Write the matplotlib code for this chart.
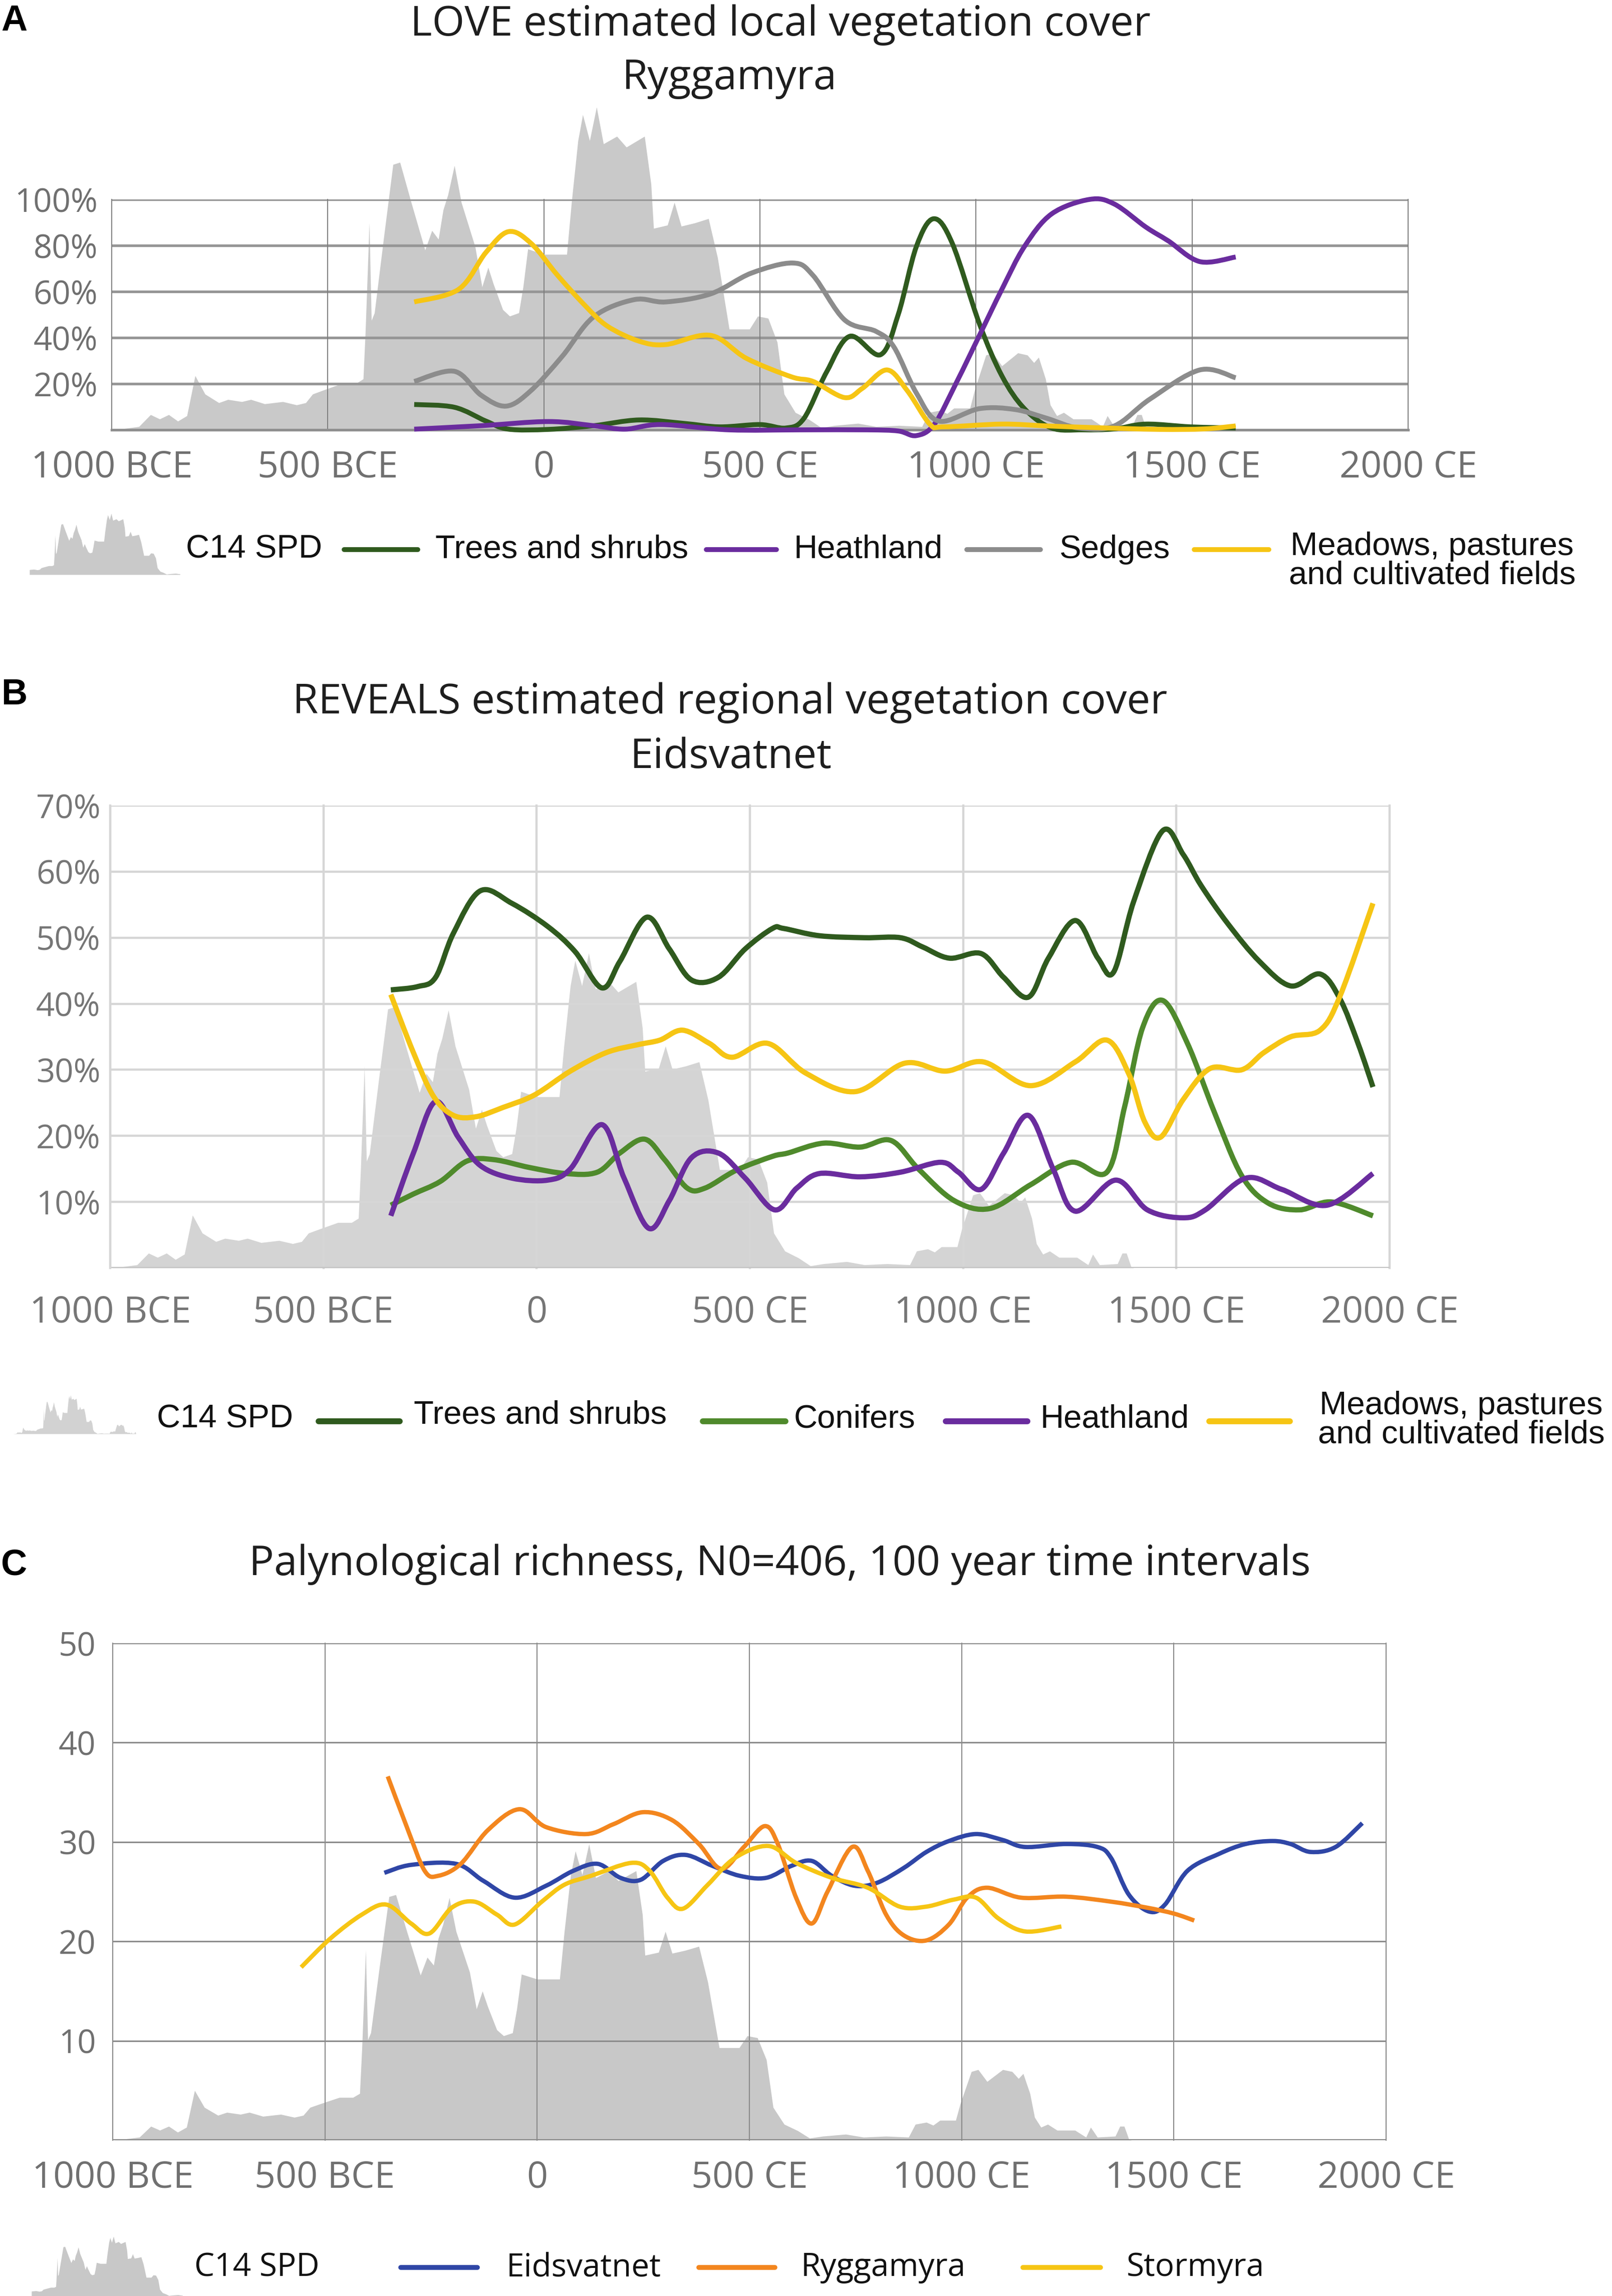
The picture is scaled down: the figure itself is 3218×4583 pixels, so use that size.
import numpy as np
import matplotlib
matplotlib.use('Agg')
import matplotlib.pyplot as plt
from matplotlib.lines import Line2D
from matplotlib.path import Path
from matplotlib.patches import PathPatch

# ---- C14 summed probability distribution (shared, relative units as in panel C) ----
spd_year = [-1000, -974, -937, -910, -889, -868, -847, -826, -807, -784, -752, -731, -699, -678, -646,
            -604, -572, -551, -535, -508, -466, -434, -418, -413, -404, -399, -392, -371, -349, -333,
            -307, -275, -259, -244, -233, -222, -207, -191, -159, -143, -129, -117, -95, -79, -58,
            -48, -37, 0, 53, 64, 79, 90, 106, 122, 138, 169, 191, 233, 248, 254,
            286, 302, 318, 349, 381, 402, 429, 476, 495, 519, 540, 556, 582, 614, 642,
            673, 727, 769, 822, 875, 891, 917, 933, 949, 986, 997, 1023, 1039, 1060, 1097,
            1119, 1134, 1145, 1161, 1172, 1187, 1203, 1225, 1267, 1293, 1304, 1320, 1362, 1373, 1383,
            1394, 1400]
spd_val = [0, 0.1, 0.3, 1.4, 1.0, 1.4, 0.8, 1.3, 5.0, 3.3, 2.5, 2.8, 2.6, 2.8, 2.4,
           2.6, 2.3, 2.5, 3.3, 3.7, 4.3, 4.3, 4.7, 9.1, 19.1, 10.1, 10.8, 17.6, 24.5, 24.7,
           21.0, 16.6, 18.4, 17.6, 20.3, 21.7, 24.4, 21.0, 16.9, 13.2, 15.0, 13.5, 11.1, 10.5, 10.8,
           13.2, 16.7, 16.2, 16.2, 21.0, 26.7, 29.1, 26.7, 29.8, 26.4, 27.1, 26.1, 27.1, 22.7, 18.6,
           18.9, 21.0, 18.8, 19.1, 19.5, 15.9, 9.3, 9.3, 10.5, 10.3, 8.1, 3.3, 1.6, 0.95, 0.2,
           0.4, 0.6, 0.3, 0.4, 0.3, 1.6, 1.8, 1.5, 2.0, 2.0, 3.7, 6.9, 7.1, 5.9, 7.1,
           6.9, 6.2, 6.7, 4.7, 2.3, 1.3, 1.6, 1.0, 1.0, 0.3, 1.3, 0.3, 0.4, 1.4, 1.4,
           0.1, 0]

# ---- Panel A: LOVE, Ryggamyra (%) ----
a_trees_x = [-300, -207, -134, -82, 11, 115, 220, 324, 407, 500, 560, 602, 654, 708, 779, 820, 862,
             902, 945, 1008, 1060, 1112, 1175, 1247, 1320, 1393, 1497, 1601]
a_trees_y = [11, 9.8, 3.8, 0.3, 0.2, 1.8, 4.3, 2.8, 1.3, 2.3, 0.8, 5, 25, 40.6, 32.6, 50, 79.5,
             91.6, 81, 46, 23.4, 9.2, 0.8, 0, 0.4, 2.5, 1.3, 0.8]
a_heath_x = [-300, -145, 11, 115, 188, 271, 428, 594, 748, 820, 862, 904, 956, 1008, 1060, 1112,
             1175, 1263, 1320, 1393, 1445, 1518, 1601]
a_heath_y = [0.3, 1.8, 3.6, 1.8, 0.3, 2.3, 0, 0, 0, -0.5, -2.5, 2.5, 21, 41, 61, 79.5,
             93.7, 100, 98, 88, 82, 73, 75]
a_sedge_x = [-300, -207, -145, -87, -30, 43, 115, 209, 282, 386, 480, 576, 623, 696, 769, 810, 862,
             914, 1008, 1091, 1164, 1237, 1320, 1403, 1518, 1601]
a_sedge_y = [21, 25.4, 15, 10.3, 17, 32, 49, 56.5, 55.5, 59, 68, 72.4, 67, 47.7, 42.7, 36, 16,
             3.8, 9.2, 8.8, 5, 0.8, 1.7, 13.4, 26, 22.6]
a_mead_x = [-300, -197, -134, -82, -30, 32, 95, 147, 220, 282, 386, 469, 573, 623, 696, 737, 794,
            841, 893, 925, 1060, 1164, 1268, 1424, 1528, 1601]
a_mead_y = [55.5, 61, 77, 86, 81, 67, 54, 45, 38.5, 37, 41, 31, 23, 21, 14, 18, 26,
            17, 2.5, 1.3, 2.5, 1.7, 1, 0.2, 0.4, 1.7]

# ---- Panel B: REVEALS, Eidsvatnet (%) ----
b_trees_x = [-342, -279, -237, -195, -132, -58, 26, 90, 153, 195, 258, 311, 363, 426, 489, 553, 579,
             663, 768, 853, 905, 968, 1042, 1095, 1153, 1200, 1263, 1316, 1353, 1400, 1468, 1516,
             1558, 1621, 1695, 1768, 1837, 1884, 1926, 1961]
b_trees_y = [42.1, 42.6, 44, 50.7, 57.1, 55.2, 51.7, 47.9, 42.4, 46.4, 53.1, 48.3, 43.6, 44, 48.3,
             51.4, 51.4, 50.3, 50, 50, 48.6, 46.9, 47.6, 44, 41, 46.9, 52.6, 46.9, 44.8, 55.5, 66.2,
             62.6, 57.9, 52.1, 46.4, 42.7, 44.5, 40.7, 34, 27.4]
b_conif_x = [-342, -289, -226, -163, -100, -16, 68, 142, 195, 253, 300, 353, 395, 468, 553, 589, 673,
             758, 831, 895, 979, 1063, 1158, 1253, 1337, 1379, 1421, 1468, 1526, 1589, 1653, 1716,
             1789, 1863, 1961]
b_conif_y = [9.5, 11.2, 13.1, 16.2, 16.4, 15.2, 14.3, 14.5, 17.4, 19.5, 16.4, 12.1, 12.1, 14.8, 16.9,
             17.4, 18.9, 18.3, 19.3, 15, 10.2, 9, 12.6, 16, 14.5, 24.5, 36.4, 40.5, 34, 23.6, 14,
             9.8, 8.8, 10, 7.9]
b_heath_x = [-342, -289, -237, -184, -132, -58, 26, 79, 153, 205, 263, 311, 363, 426, 489, 558, 610,
             663, 758, 853, 947, 989, 1042, 1095, 1153, 1211, 1263, 1358, 1432, 1516, 1568, 1663,
             1747, 1853, 1961]
b_heath_y = [7.9, 17.4, 25.2, 19.8, 15.5, 13.6, 13.3, 15, 21.7, 13.6, 6, 10.2, 16.7, 17.4, 13.6,
             8.8, 12.1, 14.3, 13.8, 14.5, 16, 14.5, 11.9, 17.4, 23.1, 15, 8.6, 13.3, 8.8, 7.6, 8.8,
             13.6, 11.9, 9.5, 14.3]
b_mead_x = [-342, -289, -242, -195, -142, -79, -5, 79, 163, 237, 289, 342, 405, 458, 542, 631, 747,
            863, 958, 1047, 1158, 1263, 1337, 1389, 1426, 1463, 1516, 1579, 1653, 1705, 1768, 1837,
            1884, 1961]
b_mead_y = [41.4, 32.6, 26, 23.1, 22.9, 24.3, 26.2, 29.8, 32.6, 33.8, 34.5, 36, 34, 31.9, 34, 29.5,
            26.7, 31, 29.8, 31.2, 27.6, 31.2, 34.5, 29.3, 22.1, 19.8, 25.5, 30.2, 30, 32.6, 35, 36,
            41.2, 55.2]

# ---- Panel C: palynological richness ----
c_eids_x = [-360, -297, -191, -127, -53, 21, 85, 143, 196, 244, 297, 350, 413, 477, 540, 599, 647,
            694, 748, 801, 864, 917, 970, 1034, 1097, 1150, 1246, 1320, 1352, 1394, 1442, 1479,
            1532, 1606, 1669, 1733, 1775, 1822, 1881, 1944]
c_eids_y = [26.9, 27.7, 27.8, 26.1, 24.4, 25.6, 27.1, 27.8, 26.4, 26.2, 28.1, 28.7, 27.6, 26.6,
            26.4, 27.6, 28.1, 26.6, 25.6, 25.9, 27.4, 29, 30.1, 30.8, 30.2, 29.5, 29.8, 29.5, 28.4,
            24.7, 23, 23.7, 27.1, 28.8, 29.8, 30.1, 29.8, 29, 29.5, 31.9]
c_rygg_x = [-352, -307, -265, -233, -180, -116, -42, 21, 116, 180, 249, 318, 381, 434, 487, 536, 567,
            610, 647, 684, 742, 779, 822, 864, 917, 970, 1013, 1060, 1140, 1246, 1352, 1436, 1500,
            1548]
c_rygg_y = [36.6, 31.5, 27.1, 26.6, 27.8, 31.2, 33.3, 31.5, 30.8, 31.8, 33, 32.2, 29.8, 27.3, 29.5,
            31.6, 29.8, 24.4, 21.8, 25, 29.5, 27.1, 22.7, 20.6, 20.1, 21.7, 24.4, 25.4, 24.4, 24.5,
            24, 23.4, 22.8, 22.1]
c_storm_x = [-556, -487, -413, -355, -297, -254, -201, -148, -95, -53, 11, 64, 127, 222, 265, 307,
             344, 402, 466, 545, 610, 694, 779, 854, 917, 981, 1034, 1087, 1150, 1235]
c_storm_y = [17.4, 20.3, 22.7, 23.7, 21.8, 20.8, 23.4, 24, 22.7, 21.7, 24, 25.7, 26.6, 27.9, 27.1,
             24.4, 23.3, 25.7, 28.4, 29.6, 27.9, 26.4, 25.4, 23.5, 23.5, 24.2, 24.4, 22.3, 21, 21.5]

xtick_vals = [-1000, -500, 0, 500, 1000, 1500, 2000]
xtick_labels = ['1000 BCE', '500 BCE', '0', '500 CE', '1000 CE', '1500 CE', '2000 CE']

C_TREES = '#2f5a1e'
C_CONIF = '#4f8a2c'
C_HEATH = '#6a2c9e'
C_SEDGE = '#8c8c8c'
C_MEAD = '#f6c514'
C_EIDS = '#2f46a6'
C_RYGG = '#f3861e'
C_STORM = '#f6c514'

W, H = 3218, 4583
fig = plt.figure(figsize=(W / 100, H / 100), dpi=100)


def fx(px):
    return px / W


def fy(py):
    return 1 - py / H


def setup(ax, yt, ylab, ylim, hcol, hlw, vcol, vlw, ypad, xpad, lab_col):
    ax.set_xlim(-1000, 2000)
    ax.set_ylim(*ylim)
    ax.set_xticks(xtick_vals)
    ax.set_xticklabels(xtick_labels, fontfamily='Open Sans', fontsize=53, color=lab_col)
    ax.set_yticks(yt)
    ax.set_yticklabels(ylab, fontfamily='Open Sans', fontsize=47, color=lab_col)
    ax.tick_params(axis='x', length=0, pad=xpad)
    ax.tick_params(axis='y', length=0, pad=ypad)
    for v in yt:
        ax.axhline(v, color=hcol, lw=hlw, zorder=0.5)
    for v in xtick_vals:
        ax.axvline(v, color=vcol, lw=vlw, zorder=0.5, clip_on=False)
    for s in ax.spines.values():
        s.set_visible(False)
    ax.set_facecolor('none')


def smooth_line(ax, xs, ys, color, lw, clip=True):
    # smoothed line like the spreadsheet charts: cubic Bezier through the read points
    p = np.column_stack([xs, ys]).astype(float)
    ext = np.vstack([p[0], p, p[-1]])
    verts = [tuple(p[0])]
    codes = [Path.MOVETO]
    for i in range(len(p) - 1):
        p0, p1, p2, p3 = ext[i], ext[i + 1], ext[i + 2], ext[i + 3]
        c1 = p1 + (p2 - p0) / 6.0
        c2 = p2 - (p3 - p1) / 6.0
        verts += [tuple(c1), tuple(c2), tuple(p2)]
        codes += [Path.CURVE4] * 3
    patch = PathPatch(Path(verts, codes), facecolor='none', edgecolor=color, lw=lw,
                      capstyle='butt', joinstyle='round', zorder=3)
    ax.add_patch(patch)
    patch.set_clip_on(clip)


# ---------------- Panel A ----------------
axA = fig.add_axes([fx(223), fy(858), fx(2811) - fx(223), fy(398) - fy(858)])
setup(axA, [20, 40, 60, 80, 100], ['20%', '40%', '60%', '80%', '100%'], (0, 100),
      '#969696', 3.8, '#7d7d7d', 1.4, 20, 28, '#707070')
axA.axhline(0, color='#8f8f8f', lw=3.8, zorder=0.6, clip_on=False)
axA.fill_between(spd_year, 0, np.array(spd_val) * 4.7, color='#c9c9c9', lw=0, zorder=0.2, clip_on=False)
for xs, ys, c in [(a_trees_x, a_trees_y, C_TREES), (a_heath_x, a_heath_y, C_HEATH),
                  (a_sedge_x, a_sedge_y, C_SEDGE), (a_mead_x, a_mead_y, C_MEAD)]:
    smooth_line(axA, xs, ys, c, 7, clip=False)

# ---------------- Panel B ----------------
axB = fig.add_axes([fx(220), fy(2531), fx(2774) - fx(220), fy(1608) - fy(2531)])
setup(axB, [10, 20, 30, 40, 50, 60, 70], ['10%', '20%', '30%', '40%', '50%', '60%', '70%'], (0, 70),
      '#d6d6d6', 3.2, '#d6d6d6', 3.2, 14, 38, '#767676')
axB.axhline(0, color='#c4c4c4', lw=3.2, zorder=0.6)
axB.axvline(-1000, color='#d6d6d6', lw=3.2, zorder=0.6)
axB.fill_between(spd_year, 0, np.array(spd_val) * 1.6, color='#d4d4d4', lw=0, zorder=0.2)
for xs, ys, c in [(b_trees_x, b_trees_y, C_TREES), (b_conif_x, b_conif_y, C_CONIF),
                  (b_heath_x, b_heath_y, C_HEATH), (b_mead_x, b_mead_y, C_MEAD)]:
    smooth_line(axB, xs, ys, c, 7.5)

# ---------------- Panel C ----------------
axC = fig.add_axes([fx(225), fy(4272), fx(2767) - fx(225), fy(3280) - fy(4272)])
setup(axC, [10, 20, 30, 40, 50], ['10', '20', '30', '40', '50'], (0, 50),
      '#8c8c8c', 2.2, '#8c8c8c', 1.6, 24, 28, '#707070')
axC.axhline(0, color='#8a8a8a', lw=3, zorder=0.6)
axC.fill_between(spd_year, 0, spd_val, color='#c8c8c8', lw=0, zorder=0.2)
for xs, ys, c in [(c_eids_x, c_eids_y, C_EIDS), (c_rygg_x, c_rygg_y, C_RYGG),
                  (c_storm_x, c_storm_y, C_STORM)]:
    smooth_line(axC, xs, ys, c, 6.2)

# ---------------- titles and panel letters ----------------
tkw = dict(fontfamily='Open Sans', fontsize=60, color='#1e1e1e', ha='center', va='center')
fig.text(fx(1558), fy(50), 'LOVE estimated local vegetation cover', **tkw)
fig.text(fx(1456), fy(157), 'Ryggamyra', **tkw)
fig.text(fx(1457), fy(1403), 'REVEALS estimated regional vegetation cover', **tkw)
fig.text(fx(1459), fy(1512), 'Eidsvatnet', **tkw)
fig.text(fx(1557), fy(3123), 'Palynological richness, N0=406, 100 year time intervals', **tkw)
lkw = dict(fontfamily='Liberation Sans', fontsize=52, fontweight='bold', color='black',
           ha='left', va='center')
fig.text(fx(2), fy(42), 'A', **lkw)
fig.text(fx(2), fy(1387), 'B', **lkw)
fig.text(fx(2), fy(3125), 'C', **lkw)


# ---------------- legends ----------------
def spd_icon(rect, lo, hi, color):
    iax = fig.add_axes(rect)
    yr = np.array(spd_year)
    vv = np.array(spd_val)
    m = (yr >= lo) & (yr <= hi)
    iax.fill_between(yr[m], 0, vv[m], color=color, lw=0)
    iax.set_xlim(lo, hi)
    iax.set_ylim(0, 30)
    iax.axis('off')


def leg_line(x0, x1, y, color, lw):
    fig.add_artist(Line2D([fx(x0), fx(x1)], [fy(y), fy(y)], color=color, lw=lw,
                          solid_capstyle='round', transform=fig.transFigure))


def leg_text(x, y, s, family, size=47, ha='left'):
    fig.text(fx(x), fy(y), s, fontfamily=family, fontsize=size, color='#111111',
             ha=ha, va='center', linespacing=0.95)


# legend A
yA = 1097
spd_icon([fx(58), fy(1147), fx(366) - fx(58), fy(1024) - fy(1147)], -650, 800, '#c9c9c9')
leg_text(371, yA, 'C14 SPD', 'Liberation Sans')
leg_line(687, 834, yA, C_TREES, 7)
leg_text(869, yA, 'Trees and shrubs', 'Liberation Sans')
leg_line(1410, 1550, yA, C_HEATH, 7)
leg_text(1585, yA, 'Heathland', 'Liberation Sans')
leg_line(1930, 2077, yA, C_SEDGE, 7)
leg_text(2115, yA, 'Sedges', 'Liberation Sans')
leg_line(2384, 2533, yA, C_MEAD, 7)
leg_text(2859, 1120, 'Meadows, pastures\nand cultivated fields', 'Liberation Sans', ha='center')

# legend B
yB = 2832
spd_icon([fx(26), fy(2862), fx(272) - fx(26), fy(2784) - fy(2862)], -1000, 1400, '#d2d2d2')
leg_text(313, yB, 'C14 SPD', 'Liberation Sans')
leg_line(636, 798, yB + 5, C_TREES, 8.5)
leg_text(826, yB - 7, 'Trees and shrubs', 'Liberation Sans')
leg_line(1403, 1568, yB + 5, C_CONIF, 8.5)
leg_text(1585, yB, 'Conifers', 'Liberation Sans')
leg_line(1888, 2051, yB + 5, C_HEATH, 8.5)
leg_text(2077, yB, 'Heathland', 'Liberation Sans')
leg_line(2414, 2575, yB + 5, C_MEAD, 8.5)
leg_text(2917, 2835, 'Meadows, pastures\nand cultivated fields', 'Liberation Sans', ha='center')

# legend C
yC = 4526
spd_icon([fx(62), fy(4583), fx(371) - fx(62), fy(4463) - fy(4583)], -650, 800, '#c8c8c8')
leg_text(388, yC, 'C14 SPD', 'Open Sans', 46)
leg_line(800, 953, yC, C_EIDS, 7)
leg_text(1011, yC, 'Eidsvatnet', 'Open Sans', 46)
leg_line(1395, 1547, yC, C_RYGG, 7)
leg_text(1599, yC, 'Ryggamyra', 'Open Sans', 46)
leg_line(2042, 2197, yC, C_STORM, 7)
leg_text(2249, yC, 'Stormyra', 'Open Sans', 46)

fig.savefig('out.png', dpi=100, facecolor='white')
